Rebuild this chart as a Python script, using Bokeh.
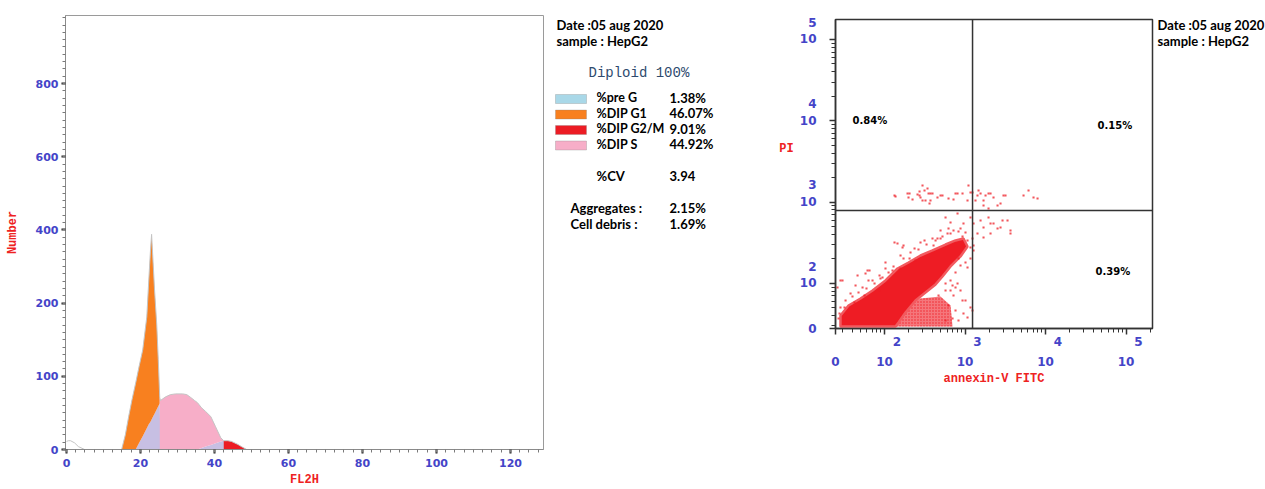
import numpy as np
from bokeh.plotting import figure
from bokeh.models import Range1d, FixedTicker, Label, BoxAnnotation, Span
from bokeh.layouts import row
from bokeh.embed import file_html
from bokeh.resources import INLINE

# ---------------- DNA content histogram (left panel) ----------------
fl2h = [0.0, 0.5, 1.1, 2.2, 3.2, 4.9, 14.9, 15.9, 16.8, 17.7, 18.7, 19.6, 20.6, 21.7, 22.2,
        22.7, 23.0, 23.4, 23.8, 24.4, 24.8, 25.2, 25.4, 26.8, 28.1, 29.5, 31.4, 32.5, 33.6,
        34.6, 35.4, 36.5, 37.6, 39.0, 40.3, 41.7, 42.5, 43.6, 44.6, 46.3, 47.6, 48.7]
count = [11, 12, 12, 9, 4, 0, 0, 20, 45, 68, 91, 113, 136, 181, 255,
         345, 388, 312, 236, 170, 123, 71, 67, 72, 75, 76, 76, 75, 71,
         67, 64, 57, 52, 45, 31, 16, 12, 12, 11, 7, 3, 0]
# S-phase model height hidden under the G1 / G2 peaks
s_under = [0, 0, 0, 0, 0, 0, 0, 0, 0, 0, 0, 9, 18, 29, 34,
           38, 41, 45, 49, 55, 59, 63, 0, 0, 0, 0, 0, 0, 0,
           0, 0, 2, 4, 6, 8.5, 11, 12, 0, 0, 0, 0, 0]
g1_bounds = (14.9, 25.2)
s_bounds = (25.2, 42.5)
g2_bounds = (42.5, 48.7)
x_tick_values = [0, 20, 40, 60, 80, 100, 120]
y_tick_values = [0, 100, 200, 400, 600, 800]

phase_names = ["%pre G", "%DIP G1", "%DIP G2/M", "%DIP S"]
phase_pct = ["1.38%", "46.07%", "9.01%", "44.92%"]
phase_colors = ["#a9d8e8", "#f8801f", "#ec1c24", "#f7aec8"]
lavender = "#c7bfe3"
diploid_text = "Diploid 100%"
cv_value = "3.94"
aggregates_value = "2.15%"
debris_value = "1.69%"
date_text = "Date :05 aug 2020"
sample_text = "sample : HepG2"

# ---------------- Annexin-V / PI dot plot (right panel), log10 units ----------------
annexin_log = [2.137, 2.286, 2.298, 2.348, 2.410, 2.435, 2.447, 2.472, 2.497, 2.534, 2.547, 2.571, 2.596,
               2.658, 2.720, 2.795, 2.857, 2.907, 2.969, 3.031, 3.043, 3.093, 3.130, 3.168, 3.230, 3.292,
               3.354, 3.441, 3.503, 2.696, 2.882, 3.068, 3.155, 3.193, 3.255, 3.317, 3.404, 3.478, 3.727,
               3.789, 3.851, 3.901, 3.292, 3.230, 2.124, 2.311, 2.435, 2.472, 2.509, 2.559, 2.571,
               2.758, 2.820, 2.907, 2.981, 3.068, 3.106, 3.193, 3.230, 3.292, 3.354, 3.466, 3.528, 3.565,
               3.404, 3.441, 3.317, 3.230, 3.155, 3.093, 3.031, 3.068, 3.106, 3.006, 2.944, 2.857, 2.783,
               2.696, 2.658, 2.609, 3.068, 3.106, 3.031, 3.068, 3.093, 2.981, 3.006, 2.944, 2.907, 2.820,
               2.857, 2.758, 3.031, 3.565, 3.317,
               2.124, 2.161, 2.224, 2.373, 2.497, 2.596, 2.385, 2.311, 2.199, 2.099, 2.012, 1.938, 1.814,
               1.764, 1.665, 1.453, 1.416, 1.578, 1.727, 1.851, 1.975, 1.503, 1.441, 1.627, 1.752, 1.938,
               1.478, 1.429, 1.453, 1.789, 2.236, 2.882, 2.969, 2.795, 2.845, 2.919, 2.758, 2.882,
               1.516, 1.602, 1.677, 1.776, 1.876, 1.950, 2.050, 2.112, 2.236, 2.323, 2.422, 2.522, 2.634,
               2.720, 2.820, 2.919, 2.969, 1.640, 1.801, 2.012, 2.199, 2.447, 2.696, 2.795, 2.944, 2.882,
               2.820, 2.758, 2.671, 2.919, 3.006, 2.845]
pi_log = [3.069, 3.106, 3.057, 3.032, 3.093, 3.130, 3.057, 3.020, 3.143, 3.167, 3.106, 3.020, 3.106,
          3.057, 3.081, 3.044, 3.032, 3.106, 3.106, 3.020, 3.204, 3.118, 3.020, 3.143, 3.020, 3.106,
          3.057, 2.983, 3.081, 3.081, 3.106, 3.118, 3.081, 3.106, 3.081, 3.106, 2.958, 3.081, 3.081,
          3.143, 3.057, 3.044, 2.921, 2.958, 3.081, 3.106, 3.081, 3.204, 3.020, 2.983, 3.106,
          2.811, 2.749, 2.860, 2.737, 2.811, 2.737, 2.774, 2.688, 2.811, 2.737, 2.774, 2.774, 2.651,
          2.675, 2.688, 2.614, 2.564, 2.614, 2.552, 2.528, 2.442, 2.466, 2.626, 2.675, 2.651, 2.614,
          2.651, 2.552, 2.466, 2.306, 2.405, 2.196, 1.704, 1.667, 1.630, 1.790, 1.913, 1.999, 1.913,
          1.851, 1.999, 1.580, 2.614, 2.737,
          2.503, 2.491, 2.442, 2.429, 2.528, 2.552, 2.282, 2.306, 2.183, 2.159, 2.183, 2.097, 2.159,
          2.122, 2.097, 2.036, 1.950, 1.876, 1.950, 2.036, 2.073, 1.704, 1.630, 1.765, 1.851, 1.913,
          2.036, 1.568, 1.704, 2.159, 2.466, 1.950, 1.790, 1.728, 1.568, 1.544, 1.544, 1.667,
          1.790, 1.839, 1.888, 1.937, 1.999, 2.060, 2.134, 2.208, 2.306, 2.380, 2.417, 2.478, 2.528,
          2.577, 2.614, 2.638, 2.577, 1.974, 2.036, 2.257, 2.343, 2.503, 2.552, 2.675, 2.220, 2.134,
          2.036, 1.913, 1.851, 2.306, 2.257, 1.974]
# outlines of the saturated core and of the lower shoulder of the main population
core_annexin_log = [1.453, 1.453, 1.553, 1.702, 1.851, 2.012, 2.161, 2.298, 2.447, 2.596, 2.758, 2.882,
                    2.981, 3.031, 2.944, 2.820, 2.720, 2.634, 2.509, 2.385, 2.261, 2.174, 2.137]
core_pi_log = [1.470, 1.605, 1.728, 1.814, 1.913, 2.036, 2.183, 2.257, 2.343, 2.405, 2.478, 2.528,
               2.552, 2.454, 2.331, 2.208, 2.085, 1.987, 1.888, 1.790, 1.642, 1.519, 1.470]
blob_annexin_log = [2.137, 2.261, 2.447, 2.696, 2.820, 2.845]
blob_pi_log = [1.470, 1.728, 1.814, 1.839, 1.728, 1.470]
gate_annexin = 1240
gate_pi = 790
quadrant_pct = ["0.84%", "0.15%", "0.39%"]   # upper-left, upper-right, lower-right
x_decades = [2, 3, 4, 5]
y_decades = [2, 3, 4, 5]

BLUE = "#4444c8"
RED_T = "#ee2222"
TXT_FONT = "Lato"
H = 489


def no_align(p):
    if "frame_align" in p.properties():
        p.frame_align = False


def text1(p, x, y, s, font=TXT_FONT, size="13px", color="black", style="bold", align="left"):
    p.add_layout(Label(x=x, y=y, text=s, text_font=font, text_font_size=size, text_color=color,
                       text_font_style=style, text_align=align, text_baseline="middle"))


def text_panel(left, right):
    # blank figure whose data coordinates are page pixels (layout helper)
    t = figure(width=right - left, height=H, x_range=Range1d(left, right), y_range=Range1d(H, 0),
               output_backend="svg", toolbar_location=None,
               min_border_left=0, min_border_right=0, min_border_top=0, min_border_bottom=0)
    t.axis.visible = False
    t.grid.visible = False
    t.outline_line_color = None
    no_align(t)
    return t


# ======================= left: histogram =======================
X0 = -0.27
X1 = X0 + 478 / 3.7
U1 = 593.0


def to_u(v):
    v = np.asarray(v, dtype=float)
    return np.where(v <= 200, v, 200 + (v - 200) / 2.0)


p1 = figure(width=550, height=H, x_range=Range1d(X0, X1), y_range=Range1d(0, U1),
            output_backend="svg", toolbar_location=None,
            min_border_left=65, min_border_right=7, min_border_top=15, min_border_bottom=39)
no_align(p1)
p1.grid.visible = False
p1.outline_line_color = "#9a9a9a"

ch = np.array(fl2h, dtype=float)
tot_u = to_u(count)
s_u = to_u(s_under)

p1.varea(x=ch, y1=0, y2=s_u, fill_color=lavender)
m = (ch >= g1_bounds[0]) & (ch <= g1_bounds[1])
p1.varea(x=ch[m], y1=s_u[m], y2=tot_u[m], fill_color=phase_colors[1])
m = (ch >= s_bounds[0]) & (ch <= s_bounds[1])
p1.varea(x=ch[m], y1=np.where(ch[m] > g1_bounds[1], s_u[m], 0), y2=tot_u[m], fill_color=phase_colors[3])
m = (ch >= g2_bounds[0]) & (ch <= g2_bounds[1])
p1.varea(x=ch[m], y1=0, y2=tot_u[m], fill_color=phase_colors[2])
p1.line(ch, tot_u, line_color="#c4c4c4", line_width=1)

xa = p1.xaxis[0]
xa.ticker = FixedTicker(ticks=x_tick_values, minor_ticks=list(np.arange(0, 130, 2.5)))
ya = p1.yaxis[0]
y_ticks_u = [float(t) for t in to_u(y_tick_values)]
ya.ticker = FixedTicker(ticks=y_ticks_u, minor_ticks=list(np.arange(0, 600, 10)))
ya.major_label_overrides = {u: str(v) for u, v in zip(y_ticks_u, y_tick_values)}
for ax in (xa, ya):
    ax.axis_line_color = "#8a8a8a"
    ax.major_tick_line_color = "#222222"
    ax.major_tick_line_width = 2
    ax.major_tick_out = 4
    ax.major_tick_in = 0
    ax.minor_tick_line_color = "#7a7a7a"
    ax.minor_tick_out = 3
    ax.minor_tick_in = 0
    ax.major_label_text_font = "DejaVu Sans"
    ax.major_label_text_font_style = "bold"
    ax.major_label_text_font_size = "11px"
    ax.major_label_text_color = BLUE
    ax.axis_label_text_font = "Liberation Mono"
    ax.axis_label_text_font_style = "bold"
    ax.axis_label_text_font_size = "12px"
    ax.axis_label_text_color = RED_T
xa.major_label_standoff = 5
xa.axis_label = "FL2H"
xa.axis_label_standoff = 3
ya.major_label_standoff = 3
ya.axis_label = "Number"
ya.axis_label_standoff = 13

# ---------- left text panel (also holds the PI axis title of the dot plot) ----------
tA = text_panel(550, 796)
text1(tA, 556, 24, date_text)
text1(tA, 556, 40, sample_text)
text1(tA, 588, 72, diploid_text, font="Liberation Mono", size="14px", color="#2e4a6e", style="normal")
row_y = [97, 112.5, 128, 143.5]
for name, pct, col, yy in zip(phase_names, phase_pct, phase_colors, row_y):
    tA.add_layout(BoxAnnotation(left=555, right=586, top=yy - 3, bottom=yy + 6,
                                fill_color=col, fill_alpha=1, line_color="#808080", line_width=1))
    text1(tA, 596, yy, name, size="12.5px")
    text1(tA, 669, yy, pct)
text1(tA, 596, 175, "%CV")
text1(tA, 669, 175, cv_value)
text1(tA, 570, 207, "Aggregates :")
text1(tA, 669, 207, aggregates_value)
text1(tA, 570, 223, "Cell debris  :")
text1(tA, 669, 223, debris_value)
text1(tA, 786, 148, "PI", font="Liberation Mono", size="12px", color=RED_T, align="center")

# ======================= right: annexin-V / PI dot plot =======================
LX0, LX1 = 1.391, 5.329
LY0, LY1 = 1.445, 5.246
p2 = figure(width=359, height=H, x_axis_type="log", y_axis_type="log",
            x_range=Range1d(10 ** LX0, 10 ** LX1), y_range=Range1d(10 ** LY0, 10 ** LY1),
            output_backend="svg", toolbar_location=None,
            min_border_left=39, min_border_right=3, min_border_top=19, min_border_bottom=H - 328)
no_align(p2)
p2.grid.visible = False
p2.outline_line_color = "#333333"
p2.outline_line_width = 1.5

p2.patch(x=10 ** np.array(blob_annexin_log), y=10 ** np.array(blob_pi_log),
         fill_color="#ee1c24", fill_alpha=0.6, line_color=None, hatch_pattern=".", hatch_color="#ee1c24",
         hatch_scale=3, hatch_weight=1.5, hatch_alpha=0.9)
p2.patch(x=10 ** np.array(core_annexin_log), y=10 ** np.array(core_pi_log),
         fill_color="#ee1c24", fill_alpha=1.0, line_color="#f25a5f", line_width=2.5)
p2.scatter(x=10 ** np.array(annexin_log), y=10 ** np.array(pi_log), marker="square", size=2.1,
           fill_color="#ee1c24", line_color=None, fill_alpha=0.75)

p2.add_layout(Span(location=gate_annexin, dimension="height", line_color="#333333", line_width=1.5))
p2.add_layout(Span(location=gate_pi, dimension="width", line_color="#333333", line_width=1.5))

minor_x = [k * 10.0 ** n for n in range(1, 6) for k in range(2, 10) if 10 ** LX0 < k * 10.0 ** n < 10 ** LX1]
minor_y = [k * 10.0 ** n for n in range(1, 6) for k in range(2, 10) if 10 ** LY0 < k * 10.0 ** n < 10 ** LY1]
x_major = [10 ** LX0] + [10.0 ** d for d in x_decades]
y_major = [10 ** LY0] + [10.0 ** d for d in y_decades]
FS = "\u2007"
xa2 = p2.xaxis[0]
xa2.ticker = FixedTicker(ticks=x_major, minor_ticks=minor_x)
xa2.major_label_overrides = dict([(x_major[0], FS + "\n0")] +
                                 [(10.0 ** d, FS * 3 + str(d) + "\n10") for d in x_decades])
ya2 = p2.yaxis[0]
ya2.ticker = FixedTicker(ticks=y_major, minor_ticks=minor_y)
ya2.major_label_overrides = dict([(y_major[0], "0")] +
                                 [(10.0 ** d, str(d) + "\n10\n" + FS) for d in y_decades])
for ax in (xa2, ya2):
    ax.axis_line_color = "#333333"
    ax.axis_line_width = 1.5
    ax.major_tick_line_color = "#333333"
    ax.major_tick_line_width = 1.5
    ax.major_tick_out = 6
    ax.major_tick_in = 0
    ax.minor_tick_line_color = "#333333"
    ax.minor_tick_out = 4
    ax.minor_tick_in = 0
    ax.major_label_text_font = "DejaVu Sans"
    ax.major_label_text_font_style = "bold"
    ax.major_label_text_font_size = "12px"
    ax.major_label_text_color = BLUE
    ax.axis_label_text_font = "Liberation Mono"
    ax.axis_label_text_font_style = "bold"
    ax.axis_label_text_font_size = "12px"
    ax.axis_label_text_color = RED_T
xa2.major_label_text_line_height = 1.45
ya2.major_label_text_line_height = 1.2
xa2.major_label_standoff = 0
ya2.major_label_standoff = 13
xa2.axis_label = "annexin-V FITC"
xa2.axis_label_standoff = 0


def rx(px):
    return 10 ** (LX0 + (px - 835.0) * (LX1 - LX0) / 317.0)


def ry(py):
    return 10 ** (LY0 + (328.0 - py) * (LY1 - LY0) / 309.0)


text1(p2, rx(852), ry(120), quadrant_pct[0], font="DejaVu Sans", size="10px")
text1(p2, rx(1097), ry(125), quadrant_pct[1], font="DejaVu Sans", size="10px")
text1(p2, rx(1095), ry(271), quadrant_pct[2], font="DejaVu Sans", size="10px")

# ---------- right text panel ----------
tB = text_panel(1155, 1265)
text1(tB, 1157, 24, date_text)
text1(tB, 1157, 40, sample_text)

layout = row(p1, tA, p2, tB)
open("out.html", "w").write(file_html(layout, INLINE))
